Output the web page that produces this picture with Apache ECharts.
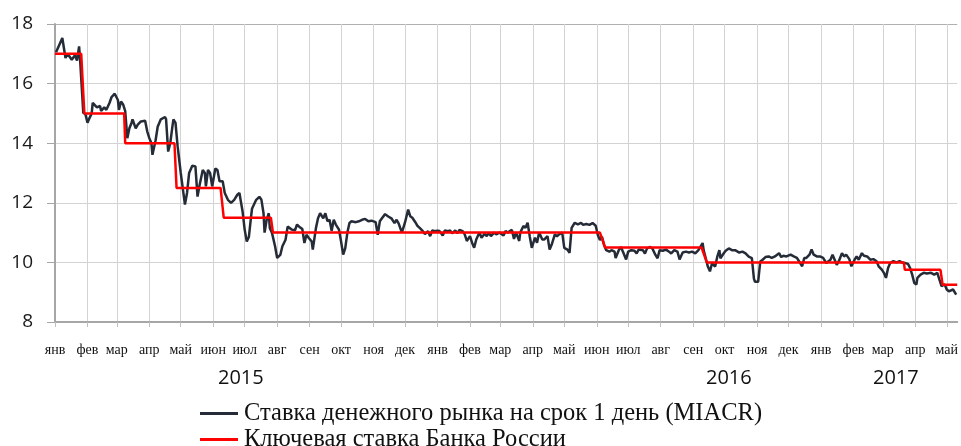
<!DOCTYPE html>
<html><head><meta charset="utf-8">
<script src="https://cdn.jsdelivr.net/npm/echarts@6/dist/echarts.min.js"></script>
<style>html,body{margin:0;padding:0;background:#fff}#c{width:961px;height:446px}</style>
</head><body><div id="c"></div>
<script>
// Month abbreviations (x tick labels)
const monthNames = ['янв','фев','мар','апр','май','июн','июл','авг','сен','окт','ноя','дек'];
const yearLabels = ['2015','2016','2017'];
const startDate = '2015-01-01';
const dayCount = 862;
const yTicks = [8, 10, 12, 14, 16, 18];
const seriesNames = ['Ставка денежного рынка на срок 1 день (MIACR)', 'Ключевая ставка Банка России'];

// MIACR: day offset since 2015-01-01 and rate, %
const miacrDay = [1,7,10,12,16,19,21,23,24,27,29,31,33,35,36,40,41,43,44,47,49,52,54,57,60,61,63,65,67,69,71,73,74,77,79,82,86,88,90,92,93,96,98,101,105,106,108,110,112,113,115,117,120,124,126,128,131,134,136,138,141,143,144,146,148,150,153,155,157,160,162,165,168,171,
174,176,179,181,183,185,187,188,192,195,197,199,200,202,204,205,207,210,212,215,217,220,222,224,226,229,231,233,236,238,240,242,245,246,249,251,253,256,258,260,262,264,266,268,271,273,275,277,279,281,283,287,290,293,296,299,302,306,308,310,312,315,318,321,324,326,
328,331,334,337,339,341,344,346,348,351,353,356,358,360,363,365,367,370,372,375,377,379,382,384,386,389,391,393,396,398,400,402,405,407,410,412,414,416,419,421,424,428,430,432,436,438,440,443,444,447,449,451,453,455,458,460,462,465,467,470,472,474,477,479,481,484,486,489,491,493,496,499,502,
504,507,510,513,516,518,520,522,524,526,529,531,534,535,538,540,542,545,547,550,553,555,557,561,563,565,568,570,573,575,577,580,583,586,588,591,594,596,599,602,605,608,611,614,618,619,621,623,625,627,630,632,634,635,638,640,643,646,649,653,656,659,662,665,667,668,671,673,675,
678,681,684,687,691,693,695,698,702,705,708,710,713,715,717,720,722,724,727,730,733,736,740,742,744,746,748,751,753,755,758,760,763,765,767,770,772,775,778,781,784,786,789,791,793,795,797,800,803,806,808,811,814,816,818,820,822,823,826,829,832,836,839,842,844,846,847,849,851,853,857,860];
const miacrRate = [17.05,17.53,16.86,17.0,16.8,16.95,16.77,17.25,16.77,15.02,14.97,14.69,14.85,15.0,15.35,15.2,15.17,15.25,15.08,15.2,15.12,15.35,15.55,15.66,15.45,15.12,15.4,15.3,15.08,14.17,14.5,14.68,14.8,14.5,14.62,14.73,14.75,14.4,14.17,14.0,13.61,14.1,14.55,14.8,14.88,14.8,13.72,14.0,14.55,14.8,14.68,13.9,13.0,11.94,12.33,13.0,13.24,13.22,12.21,12.6,13.1,13.0,12.55,13.1,13.0,12.55,13.15,13.1,12.72,12.72,12.33,12.1,12.0,12.1,
12.27,12.33,11.71,11.1,10.7,10.85,11.5,11.8,12.1,12.2,12.1,11.65,11.0,11.43,11.65,11.15,11.0,10.54,10.15,10.25,10.54,10.76,11.2,11.15,11.1,11.08,11.27,11.2,11.12,10.65,10.93,10.83,10.7,10.43,11.15,11.48,11.65,11.48,11.65,11.38,11.43,11.06,11.43,11.27,11.1,10.7,10.26,10.48,11.0,11.32,11.38,11.35,11.38,11.43,11.46,11.38,11.4,11.35,10.93,11.38,11.48,11.62,11.54,11.48,11.32,11.43,
11.3,11.0,11.34,11.77,11.55,11.5,11.34,11.22,11.16,11.05,10.95,11.05,10.88,11.07,11.05,11.06,11.05,10.9,11.07,11.05,11.07,10.98,11.07,10.98,11.09,11.05,10.94,10.72,10.88,10.66,10.49,10.77,11.0,10.83,10.96,10.88,11.0,10.88,11.0,10.94,11.0,10.9,11.05,11.0,11.09,10.79,11.0,10.72,11.0,11.22,11.16,11.33,10.88,10.49,10.83,10.66,11.0,10.77,10.77,10.88,10.43,10.6,10.94,10.88,10.94,11.0,10.49,10.43,10.32,11.16,11.33,11.28,11.33,
11.26,11.29,11.26,11.32,11.23,10.92,10.75,10.86,10.58,10.41,10.36,10.41,10.36,10.15,10.41,10.52,10.36,10.1,10.36,10.41,10.39,10.3,10.43,10.41,10.3,10.47,10.52,10.47,10.25,10.14,10.41,10.39,10.43,10.36,10.3,10.41,10.36,10.1,10.33,10.36,10.33,10.36,10.3,10.41,10.65,10.41,10.14,9.86,9.7,9.97,9.86,10.19,10.41,10.14,10.3,10.39,10.47,10.41,10.41,10.33,10.36,10.3,10.19,10.14,9.45,9.35,9.35,10.03,10.08,
10.18,10.2,10.15,10.2,10.31,10.18,10.22,10.2,10.26,10.2,10.15,10.04,9.87,10.15,10.15,10.26,10.43,10.26,10.2,10.2,10.15,9.98,10.09,10.26,10.09,9.92,10.04,10.31,10.2,10.26,10.11,9.87,10.09,10.2,10.09,10.31,10.22,10.2,10.09,10.11,10.04,9.87,9.76,9.65,9.48,9.81,9.98,10.04,10.0,10.04,10.0,9.98,9.95,9.81,9.59,9.31,9.26,9.48,9.59,9.65,9.63,9.65,9.59,9.65,9.42,9.2,9.2,9.26,9.09,9.03,9.09,8.92];

// Key rate: day offset since 2015-01-01 and rate, %
const keyRateDay = [0,25,28,66,67,114,116,158,161,206,208,520,525,617,622,810,811,845,847,861];
const keyRate    = [17,17,15,15,14,14,12.5,12.5,11.5,11.5,11,11,10.5,10.5,10,10,9.75,9.75,9.25,9.25];

// build daily categories
const categories = [];
(function(){
  const d0 = new Date(startDate + 'T00:00:00Z');
  for (let i = 0; i < dayCount; i++) {
    const d = new Date(d0.getTime() + i * 86400000);
    categories.push(d.toISOString().slice(0, 10));
  }
})();
const isMonthStart = (i, v) => categories[i] && categories[i].slice(8) === '01';

const legendBase = {
  orient: 'vertical', left: 195, itemGap: 0,
  itemWidth: 38, itemHeight: 3, icon: 'rect',
  textStyle: {fontFamily: 'Liberation Serif', fontSize: 24.5, color: '#111', padding: [0, 0, 0, 1]}
};

const chart = echarts.init(document.getElementById('c'), null, {renderer: 'canvas'});
chart.setOption({
  animation: false,
  backgroundColor: '#fff',
  grid: {left: 55, right: 0, top: 24, bottom: 124, containLabel: false},
  xAxis: {
    type: 'category', data: categories, boundaryGap: false,
    axisLine: {lineStyle: {color: '#a6a6a6', width: 2}},
    axisTick: {show: true, interval: isMonthStart, length: 5, lineStyle: {color: '#bfbfbf'}},
    splitLine: {show: true, interval: isMonthStart, lineStyle: {color: '#d3d3d3', width: 1}},
    axisLabel: {interval: isMonthStart, margin: 21, color: '#111',
      fontFamily: 'Liberation Serif', fontSize: 14,
      formatter: v => monthNames[parseInt(v.slice(5, 7), 10) - 1]}
  },
  yAxis: {
    type: 'value', min: yTicks[0], max: yTicks[yTicks.length - 1], interval: 2,
    axisLine: {show: true, lineStyle: {color: '#a6a6a6', width: 2}},
    axisTick: {show: true, length: 8, lineStyle: {color: '#a6a6a6'}},
    splitLine: {lineStyle: {color: ['#d3d3d3', '#d3d3d3', '#d3d3d3', '#d3d3d3', '#d3d3d3', '#b0b0b0'], width: 1}},
    axisLabel: {margin: 22, color: '#1a1a1a', fontFamily: 'Open Sans', fontSize: 19}
  },
  legend: [
    Object.assign({}, legendBase, {top: 396, data: [seriesNames[0]]}),
    Object.assign({}, legendBase, {top: 422, data: [seriesNames[1]]})
  ],
  graphic: yearLabels.map((t, i) => ({
    type: 'text', left: [218, 706, 873][i], top: 368,
    style: {text: t, font: '20px "Open Sans"', fill: '#111'}
  })),
  series: [
    {name: seriesNames[0], type: 'line', showSymbol: false, symbol: 'none',
     lineStyle: {color: '#252c37', width: 2.5}, itemStyle: {color: '#252c37'},
     data: miacrDay.map((d, i) => [d, miacrRate[i]]), z: 2},
    {name: seriesNames[1], type: 'line', showSymbol: false, symbol: 'none',
     lineStyle: {color: '#ff0000', width: 2.5}, itemStyle: {color: '#ff0000'},
     data: keyRateDay.map((d, i) => [d, keyRate[i]]), z: 3}
  ]
});
</script></body></html>
